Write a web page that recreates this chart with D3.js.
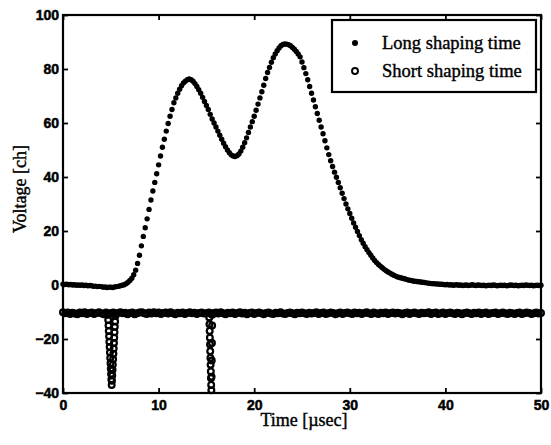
<!DOCTYPE html>
<html>
<head>
<meta charset="utf-8">
<script src="https://cdn.jsdelivr.net/npm/d3@7"></script>
<style>
  body { margin: 0; background: #fff; }
  svg { display: block; }
</style>
</head>
<body>
<script>
// axis ticks
const xTicks = [0, 10, 20, 30, 40, 50]
const yTicks = [-40, -20, 0, 20, 40, 60, 80, 100]

const seriesNames = ['Long shaping time', 'Short shaping time']

// long shaping time, one value every 0.2 usec from 0 to 50
const longStep = 0.2
const longV = [
    0.3, 0.2, 0.3, 0.1, 0.2, 0.0, 0.1, -0.1, 0.0, -0.1,
    0.0, -0.2, -0.1, -0.3, -0.2, -0.3, -0.5, -0.4, -0.6, -0.5,
    -0.6, -0.8, -0.7, -0.9, -0.8, -0.8, -0.9, -0.7, -0.6, -0.5,
    -0.3, -0.1, 0.1, 0.5, 1.0, 1.7, 2.5, 3.8, 5.5, 8.0,
    11.0, 14.5, 18.0, 21.2, 24.5, 28.0, 31.5, 34.8, 38.0, 41.2,
    44.5, 47.8, 51.0, 54.0, 57.0, 59.8, 62.5, 65.0, 67.5, 69.3,
    71.0, 72.5, 73.8, 74.8, 75.5, 76.0, 76.3, 76.0, 75.5, 74.6,
    73.5, 72.3, 71.0, 69.5, 68.0, 66.5, 65.0, 63.2, 61.5, 60.0,
    58.5, 57.0, 55.5, 54.0, 52.5, 51.2, 50.0, 49.0, 48.2, 47.8,
    47.6, 47.9, 48.5, 49.6, 51.0, 52.7, 54.5, 56.5, 58.5, 60.5,
    62.5, 64.7, 67.0, 69.3, 71.6, 74.0, 76.5, 78.7, 80.6, 82.5,
    84.2, 85.6, 86.8, 87.8, 88.6, 89.1, 89.3, 89.2, 89.0, 88.6,
    88.0, 87.3, 86.5, 85.6, 84.5, 82.6, 80.5, 78.3, 76.0, 73.5,
    71.0, 68.5, 66.0, 63.5, 61.0, 58.5, 56.0, 53.4, 50.8, 48.3,
    46.0, 43.9, 41.8, 39.9, 38.0, 36.0, 34.0, 32.0, 30.0, 28.2,
    26.5, 24.7, 23.0, 21.4, 19.8, 18.3, 16.8, 15.5, 14.2, 13.1,
    12.0, 11.0, 10.0, 9.1, 8.3, 7.6, 7.0, 6.4, 5.8, 5.3,
    4.8, 4.4, 4.0, 3.6, 3.3, 3.0, 2.8, 2.6, 2.4, 2.2,
    2.0, 1.8, 1.7, 1.5, 1.4, 1.3, 1.2, 1.1, 1.0, 0.9,
    0.8, 0.7, 0.6, 0.5, 0.5, 0.4, 0.4, 0.3, 0.3, 0.2,
    0.1, 0.2, 0.0, 0.1, -0.1, 0.0, 0.1, -0.1, 0.0, -0.2,
    -0.1, 0.0, -0.2, -0.1, 0.1, -0.1, -0.2, 0.0, -0.1, -0.2,
    -0.1, -0.3, -0.2, -0.1, -0.2, 0.0, -0.1, -0.3, -0.2, -0.1,
    -0.2, -0.1, -0.3, -0.2, 0.0, -0.1, -0.2, -0.1, -0.3, -0.2,
    -0.1, -0.2, 0.0, -0.1, -0.2, -0.1, -0.3, -0.2, -0.1, -0.2,
    -0.1
]

// short shaping time baseline, one value every 0.25 usec from 0 to 50
const shortStep = 0.25
const shortBase = [
    -10.1, -10.5, -10.2, -10.7, -10.3, -10.6, -10.8, -10.2, -10.5, -10.1, -10.7, -10.4, -10.2, -10.7, -10.4, -10.1, -10.5, -10.8, -10.2, -10.5,
    -10.6, -10.2, -10.7, -10.4, -10.1, -10.5, -10.3, -10.8, -10.4, -10.2, -10.8, -10.5, -10.2, -10.1, -10.5, -10.7, -10.2, -10.6, -10.1, -10.5,
    -10.2, -10.7, -10.4, -10.2, -10.6, -10.1, -10.5, -10.8, -10.3, -10.5, -10.2, -10.7, -10.4, -10.1, -10.5, -10.3, -10.7, -10.4, -10.2, -10.6,
    -10.5, -10.2, -10.7, -10.4, -10.2, -10.6, -10.1, -10.5, -10.8, -10.3, -10.5, -10.2, -10.7, -10.4, -10.1, -10.6, -10.3, -10.8, -10.4, -10.2,
    -10.7, -10.4, -10.2, -10.5, -10.8, -10.4, -10.2, -10.6, -10.7, -10.3, -10.5, -10.1, -10.6, -10.7, -10.4, -10.2, -10.5, -10.8, -10.3, -10.5,
    -10.2, -10.5, -10.7, -10.3, -10.6, -10.4, -10.1, -10.7, -10.4, -10.2, -10.7, -10.5, -10.2, -10.4, -10.8, -10.5, -10.2, -10.7, -10.4, -10.2,
    -10.5, -10.7, -10.2, -10.5, -10.3, -10.7, -10.4, -10.1, -10.5, -10.7, -10.2, -10.5, -10.7, -10.3, -10.5, -10.2, -10.7, -10.4, -10.2, -10.6,
    -10.3, -10.5, -10.8, -10.4, -10.2, -10.7, -10.4, -10.2, -10.5, -10.7, -10.3, -10.5, -10.4, -10.1, -10.7, -10.4, -10.2, -10.7, -10.5, -10.2,
    -10.7, -10.4, -10.2, -10.5, -10.7, -10.3, -10.5, -10.8, -10.4, -10.2, -10.5, -10.7, -10.3, -10.5, -10.2, -10.7, -10.4, -10.2, -10.7, -10.5,
    -10.4, -10.2, -10.7, -10.5, -10.2, -10.5, -10.7, -10.3, -10.5, -10.7, -10.4, -10.2, -10.7, -10.5, -10.2, -10.4, -10.7, -10.5, -10.2, -10.6,
    -10.4
]

// short shaping time pulses
const dip1T = [4.70, 4.73, 4.76, 4.79, 4.82, 4.85, 4.88, 4.91, 4.94, 4.97, 5.00, 5.03, 5.06, 5.09,
               5.12, 5.15, 5.18, 5.21, 5.24, 5.27, 5.30, 5.33, 5.36, 5.39, 5.42, 5.45, 5.48]
const dip1V = [-11, -13, -15, -17, -19, -21, -23, -25, -27, -29, -31, -33, -35, -37,
               -35.5, -33.5, -31.5, -29.5, -27.5, -25.5, -23.5, -21.5, -19.5, -17.5, -15.5, -13.5, -11.5]
const dip2T = [15.30, 15.32, 15.34, 15.36, 15.38, 15.40, 15.42, 15.44, 15.46, 15.48, 15.50, 15.52,
               15.54, 15.56, 15.58, 15.60, 15.62]
const dip2V = [-12, -14.5, -17, -19.5, -22, -24.5, -27, -29.5, -32, -34.5, -37, -39,
               -34, -28, -21.5, -15, -11]

// svg dimensions
const w = 551
const h = 445
const pL = 63, pR = 541, pT = 15, pB = 393

const x = d3.scaleLinear().domain([0, 50]).range([pL, pR])
const y = d3.scaleLinear().domain([-40, 100]).range([pB, pT])

const longData = longV.map((v, i) => [i * longStep, v])
const shortData = shortBase.map((v, i) => [i * shortStep, v])
    .concat(dip1T.map((t, i) => [t, dip1V[i]]))
    .concat(dip2T.map((t, i) => [t, dip2V[i]]))

const svg = d3.select('body')
    .append('svg')
    .attr('width', w)
    .attr('height', h)

svg.append('rect').attr('width', w).attr('height', h).attr('fill', '#fff')

const tickFont = '"Liberation Sans", Arial, sans-serif'
const serif = '"Liberation Serif", "Times New Roman", serif'

// axes, ticks pointing inward
svg.append('g')
    .attr('transform', `translate(0,${pB})`)
    .call(d3.axisBottom(x).tickValues(xTicks).tickSizeInner(-5).tickSizeOuter(0).tickPadding(7))
svg.append('g')
    .attr('transform', `translate(${pL},0)`)
    .call(d3.axisLeft(y).tickValues(yTicks).tickSizeInner(-5).tickSizeOuter(0).tickPadding(4))
svg.append('g')
    .attr('transform', `translate(0,${pT})`)
    .call(d3.axisTop(x).tickValues(xTicks).tickSizeInner(-5).tickSizeOuter(0).tickFormat(''))
svg.append('g')
    .attr('transform', `translate(${pR},0)`)
    .call(d3.axisRight(y).tickValues(yTicks).tickSizeInner(-5).tickSizeOuter(0).tickFormat(''))

svg.selectAll('.domain').remove()
svg.selectAll('.tick line').attr('stroke', '#000').attr('stroke-width', 1.8)
svg.selectAll('.tick text')
    .attr('fill', '#000')
    .attr('stroke', '#000')
    .attr('stroke-width', 0.5)
    .style('font-family', tickFont)
    .style('font-weight', 'bold')
    .style('font-size', '14px')

svg.append('rect')
    .attr('x', pL)
    .attr('y', pT)
    .attr('width', pR - pL)
    .attr('height', pB - pT)
    .attr('fill', 'none')
    .attr('stroke', '#000')
    .attr('stroke-width', 2.2)

// data
svg.append('g')
    .selectAll('circle')
    .data(shortData)
    .enter()
    .append('circle')
    .attr('cx', d => x(d[0]))
    .attr('cy', d => y(d[1]))
    .attr('r', 2.9)
    .attr('fill', 'none')
    .attr('stroke', '#000')
    .attr('stroke-width', 2.2)

svg.append('g')
    .selectAll('circle')
    .data(longData)
    .enter()
    .append('circle')
    .attr('cx', d => x(d[0]))
    .attr('cy', d => y(d[1]))
    .attr('r', 2.7)
    .attr('fill', '#000')

// axis titles
svg.append('text')
    .attr('x', (pL + pR) / 2 + 2)
    .attr('y', 426)
    .attr('text-anchor', 'middle')
    .attr('stroke', '#000')
    .attr('stroke-width', 0.4)
    .style('font-family', serif)
    .style('font-size', '18px')
    .text('Time [\u00b5sec]')

svg.append('text')
    .attr('transform', 'translate(26,189) rotate(-90)')
    .attr('text-anchor', 'middle')
    .attr('stroke', '#000')
    .attr('stroke-width', 0.4)
    .style('font-family', serif)
    .style('font-size', '18px')
    .text('Voltage [ch]')

// legend
const lg = svg.append('g')
lg.append('rect')
    .attr('x', 332)
    .attr('y', 20)
    .attr('width', 204)
    .attr('height', 72)
    .attr('fill', '#fff')
    .attr('stroke', '#000')
    .attr('stroke-width', 2.2)
lg.append('circle').attr('cx', 355).attr('cy', 43).attr('r', 3).attr('fill', '#000')
lg.append('circle').attr('cx', 355).attr('cy', 71).attr('r', 3)
    .attr('fill', 'none').attr('stroke', '#000').attr('stroke-width', 1.9)
lg.selectAll('text')
    .data(seriesNames)
    .enter()
    .append('text')
    .attr('x', 382)
    .attr('y', (d, i) => 49 + i * 28)
    .attr('stroke', '#000')
    .attr('stroke-width', 0.4)
    .style('font-family', serif)
    .style('font-size', '18.5px')
    .text(d => d)
</script>
</body>
</html>
